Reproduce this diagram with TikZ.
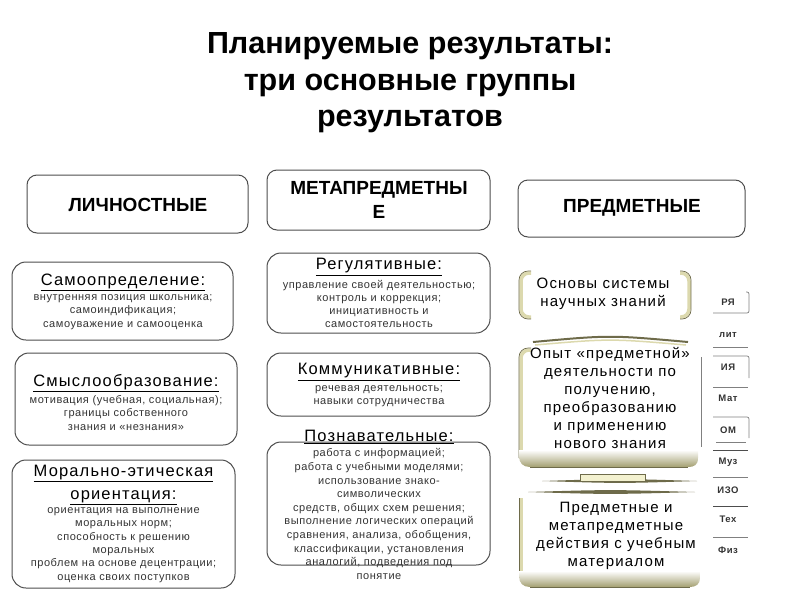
\documentclass[tikz,border=0pt]{standalone}
\usepackage{fontspec}
\setmainfont{Liberation Sans}
\newfontfamily\ttlfont[LetterSpace=7]{Liberation Sans}
\newfontfamily\bodyfont[LetterSpace=5]{Liberation Sans}
\newfontfamily\rfont[LetterSpace=8]{Liberation Sans}
\newfontfamily\subjfont[LetterSpace=6]{Liberation Sans}
\definecolor{boxgray}{HTML}{4D4D4D}
\definecolor{bodygray}{HTML}{333333}
\definecolor{olivelt}{HTML}{DCD9AE}
\definecolor{olivedk}{HTML}{6E6B4A}
\definecolor{oliveband}{HTML}{A39F70}
\definecolor{yellowpale}{HTML}{F3F1CF}
\tikzset{
  box/.style={draw=boxgray, line width=1pt, rounded corners=14pt, inner sep=0pt},
  hbox/.style={draw=boxgray, line width=1pt, rounded corners=10pt, inner sep=0pt},
  ttl/.style={font=\fontsize{16.5}{18}\ttlfont, text=black, inner sep=0pt, align=center},
  ttltwo/.style={font=\fontsize{16.5}{23}\ttlfont, text=black, inner sep=0pt, align=center},
  bodytxt/.style={font=\fontsize{11}{13.3}\bodyfont, text=bodygray, inner sep=0pt, align=center},
  bodytxtb/.style={font=\fontsize{11}{13.6}\bodyfont, text=bodygray, inner sep=0pt, align=center},
  headtxt/.style={font=\fontsize{19}{24.5}\selectfont\bfseries, inner sep=0pt, align=center},
  rtxt/.style={font=\fontsize{15}{18}\rfont, inner sep=0pt, align=center},
  subj/.style={font=\fontsize{9.5}{10}\subjfont\bfseries, text=bodygray, inner sep=0pt},
  sline/.style={draw=gray, line width=0.7pt},
  slinedk/.style={draw=boxgray, line width=1pt},
  brlight/.style={draw=olivelt, line width=3.5pt, rounded corners=8pt},
  brdark/.style={draw=olivedk, line width=0.7pt, rounded corners=9pt},
}
\begin{document}
\begin{tikzpicture}[x=1pt,y=-1pt]
\useasboundingbox (0,0) rectangle (800,600);

% heading
\node[font=\fontsize{30.5}{36.5}\selectfont\bfseries, align=center, inner sep=0pt] (head) at (410,83)
  {Планируемые результаты:\\три основные группы\\результатов};

% header boxes
\node[hbox, minimum width=221pt, minimum height=58pt] (h1) at (137.5,204) {};
\node[headtxt] (h1t) at (138,205) {ЛИЧНОСТНЫЕ};
\node[hbox, minimum width=223pt, minimum height=60pt] (h2) at (378.5,200) {};
\node[headtxt] (h2t) at (379,200) {МЕТАПРЕДМЕТНЫ\\Е};
\node[hbox, minimum width=227pt, minimum height=57pt] (h3) at (631.5,208.5) {};
\node[headtxt] (h3t) at (632,208) {ПРЕДМЕТНЫЕ};

% left column
\node[box, minimum width=221pt, minimum height=78pt] (b1) at (122.5,301) {};
\node[ttl] (b1t) at (123,282) {\underline{Самоопределение:}};
\node[bodytxt] (b1b) at (123,312) {внутренняя позиция школьника;\\самоиндификация;\\самоуважение и самооценка};

\node[box, minimum width=222pt, minimum height=92pt] (b2) at (126,399) {};
\node[ttl] (b2t) at (126,383) {\underline{Смыслообразование:}};
\node[bodytxt] (b2b) at (126,413) {мотивация (учебная, социальная);\\границы собственного\\знания и «незнания»};

\node[box, minimum width=223pt, minimum height=128pt] (b3) at (123.5,524) {};
\node[ttltwo] (b3t) at (123.5,485) {\underline{Морально-этическая}\\\underline{ориентация:}};
\node[bodytxt] (b3b) at (123.5,545) {ориентация на выполнение\\моральных норм;\\способность к решению\\моральных\\проблем на основе децентрации;\\оценка своих поступков};

% middle column
\node[box, minimum width=223pt, minimum height=80pt] (m1) at (378.5,293) {};
\node[ttl] (m1t) at (379,267) {\underline{Регулятивные:}};
\node[bodytxt] (m1b) at (379,304) {управление своей деятельностью;\\контроль и коррекция;\\инициативность и\\самостоятельность};

\node[box, minimum width=223pt, minimum height=63pt] (m2) at (378.5,384.5) {};
\node[ttl] (m2t) at (379,372) {\underline{Коммуникативные:}};
\node[bodytxt] (m2b) at (379,396.5) {речевая деятельность;\\навыки сотрудничества};

\node[box, minimum width=223pt, minimum height=123pt] (m3) at (378.5,503.5) {};
\node[ttl] (m3t) at (379,437) {\underline{Познавательные:}};
\node[bodytxtb] (m3b) at (379,514) {работа с информацией;\\работа с учебными моделями;\\использование знако-\\символических\\средств, общих схем решения;\\выполнение логических операций\\сравнения, анализа, обобщения,\\классификации, установления\\аналогий, подведения под\\понятие};

% right column: Основы
\draw[brlight] (531,273) -- (521,273) -- (521,317) -- (531,317);
\draw[brdark] (531,271) -- (519,271) -- (519,319) -- (531,319);
\draw[brlight] (680,273) -- (689,273) -- (689,317) -- (680,317);
\draw[brdark] (680,271) -- (691,271) -- (691,319) -- (680,319);
\node[rtxt] (osn) at (603,293.5) {Основы системы\\научных знаний};

% Опыт
\draw[draw=olivedk, line width=2pt] (533,342) .. controls (610,335) .. (688,342);
\draw[draw=olivelt, line width=1.5pt] (535,345) .. controls (610,338.5) .. (686,345);
\draw[brlight] (531,350) -- (521,350) -- (521,458);
\draw[brdark] (531,348) -- (519,348) -- (519,458);
\shade[top color=white, bottom color=oliveband] (519,450) -- (698,450) -- (698,458) .. controls (698,465) and (694,467) .. (688,467) -- (530,467) .. controls (523,467) and (519,463) .. (519,456) -- cycle;
\draw[draw=olivedk, line width=1pt] (530,467) -- (688,467);
\draw[draw=gray, line width=0.6pt] (701,357) -- (701,447);
\node[rtxt] (opyt) at (610,398) {Опыт «предметной»\\деятельности по\\получению,\\преобразованию\\и применению\\нового знания};

% connector piece
\fill[olivedk] (542,481) .. controls (620,478.5) .. (697,481) .. controls (620,483.5) .. (542,481) -- cycle;
\draw[draw=olivedk, fill=yellowpale, line width=0.7pt] (580,474) rectangle (645,481);
\fill[olivedk] (528,492) .. controls (610,489.5) .. (695,492) .. controls (610,494.5) .. (528,492) -- cycle;

% Предметные и метапредметные
\draw[brlight] (521,498) -- (521,578);
\draw[brdark] (519,498) -- (519,578);
\shade[top color=white, bottom color=oliveband] (519,571) -- (700,571) -- (700,578) .. controls (700,584) and (696,587) .. (690,587) -- (530,587) .. controls (523,587) and (519,583) .. (519,576) -- cycle;
\draw[draw=olivedk, line width=1pt] (530,587) -- (690,587);
\node[rtxt] (pred) at (616,536) {Предметные и\\метапредметные\\действия с учебным\\материалом};

% subject list
\node[subj] (s1) at (728,302) {РЯ};
\node[subj] (s2) at (728,335) {лит};
\node[subj] (s3) at (728,367) {ИЯ};
\node[subj] (s4) at (728,398) {Мат};
\node[subj] (s5) at (728,430) {ОМ};
\node[subj] (s6) at (728,462) {Муз};
\node[subj] (s7) at (728,490) {ИЗО};
\node[subj] (s8) at (728,519) {Тех};
\node[subj] (s9) at (728,550) {Физ};

\draw[sline, rounded corners=2pt] (713,313) -- (749,313) -- (749,292) -- (746,292);
\draw[sline] (713,347) -- (748,347);
\draw[sline, rounded corners=2pt] (713,356) -- (749,356) -- (749,378);
\draw[sline] (713,387) -- (748,387);
\draw[sline, rounded corners=2pt] (713,417) -- (749,417) -- (749,438);
\draw[sline] (716,442) -- (746,442);
\draw[slinedk] (713,450) -- (748,450);
\draw[sline] (713,477) -- (748,477);
\draw[slinedk] (713,506) -- (748,506);
\draw[sline] (713,537) -- (748,537);
\end{tikzpicture}
\end{document}
